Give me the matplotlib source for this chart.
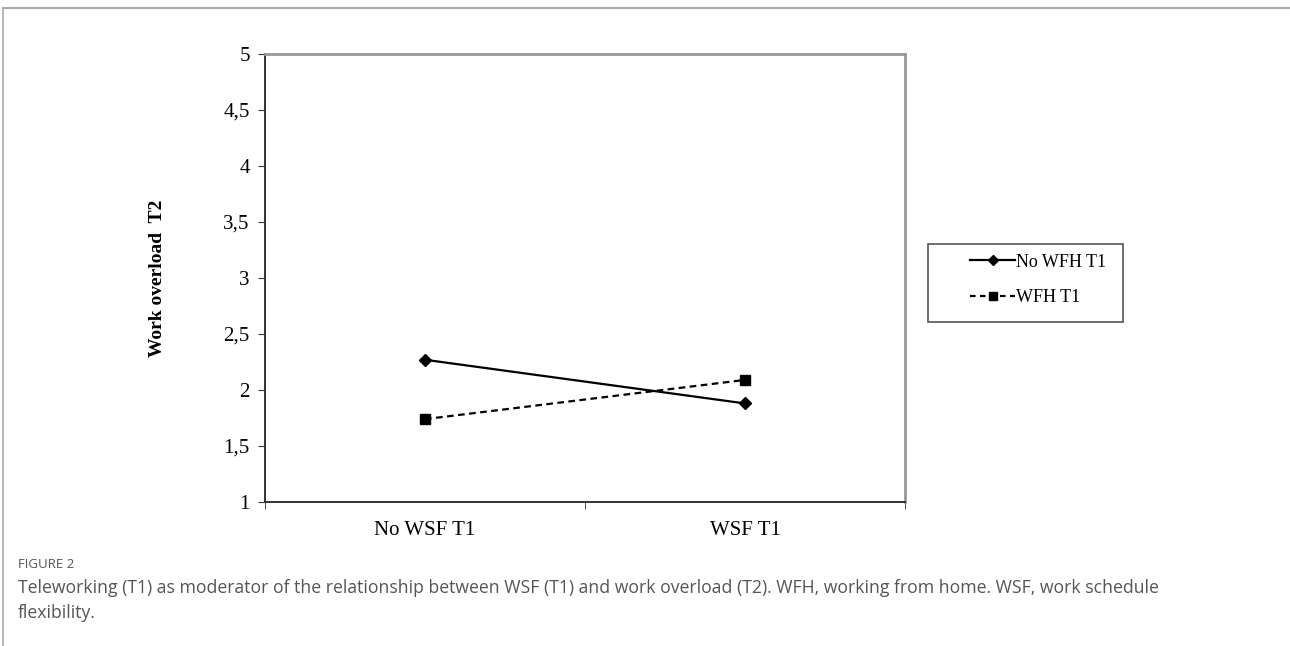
import numpy as np
import matplotlib
matplotlib.use("Agg")
import matplotlib.pyplot as plt
from matplotlib.lines import Line2D
from matplotlib.patches import Rectangle

# data
categories = ["No WSF T1", "WSF T1"]
no_wfh = [2.27, 1.88]
wfh = [1.74, 2.09]
series_names = ["No WFH T1", "WFH T1"]
yticks = [1, 1.5, 2, 2.5, 3, 3.5, 4, 4.5, 5]
ytick_labels = ["1", "1,5", "2", "2,5", "3", "3,5", "4", "4,5", "5"]

plt.rcParams["font.family"] = ["Liberation Serif", "DejaVu Serif"]

fig = plt.figure(figsize=(12.9, 6.46), dpi=100)
ax = fig.add_axes([265 / 1290, 1 - 502 / 646, 640 / 1290, 448 / 646])

x = np.arange(len(categories))
ax.plot(x, no_wfh, color="black", linewidth=1.6, marker="D", markersize=6,
        label=series_names[0])
ax.plot(x, wfh, color="black", linewidth=1.6, linestyle=(0, (3, 2)),
        marker="s", markersize=7, label=series_names[1])

ax.set_xlim(-0.5, 1.5)
ax.set_ylim(1, 5)
ax.set_yticks(yticks)
ax.set_yticklabels(ytick_labels, fontsize=15)
ax.set_xticks(x)
ax.set_xticklabels(categories, fontsize=15)
ax.tick_params(axis="x", which="major", length=0, pad=14)
ax.set_xticks([-0.5, 0.5, 1.5], minor=True)
ax.tick_params(axis="x", which="minor", length=5, direction="out", color="#333333")
ax.tick_params(axis="y", length=5, direction="out", color="#333333", pad=6)

for s in ["left", "bottom"]:
    ax.spines[s].set_color("#333333")
    ax.spines[s].set_linewidth(1.4)
for s in ["top", "right"]:
    ax.spines[s].set_color("#999999")
    ax.spines[s].set_linewidth(2)

ax.set_ylabel("Work overload  T2", fontsize=14, fontweight="bold", labelpad=41)

# legend box drawn separately, the entries sit inside it
fig.add_artist(Rectangle((928 / 1290, 1 - 322 / 646), 195 / 1290, 78 / 646,
                         transform=fig.transFigure, fill=False,
                         edgecolor="#555555", linewidth=1.2))
leg = ax.legend(loc="center left", bbox_to_anchor=(970 / 1290, 1 - 280 / 646),
                bbox_transform=fig.transFigure, fontsize=13, frameon=False,
                handlelength=2.5, handletextpad=0.05, borderpad=0,
                labelspacing=1.05, borderaxespad=0)
for h in leg.legend_handles:
    h.set_markersize(5.5)
leg.legend_handles[1].set_dashes([2.5, 2])

# outer frame lines of the page
fig.add_artist(Line2D([3 / 1290, 1], [1 - 8 / 646, 1 - 8 / 646],
                      transform=fig.transFigure, color="#aaaaaa", linewidth=1.5))
fig.add_artist(Line2D([3 / 1290, 3 / 1290], [0, 1 - 8 / 646],
                      transform=fig.transFigure, color="#aaaaaa", linewidth=1.2))

fig.text(18 / 1290, 1 - 565 / 646, "FIGURE 2", fontsize=9.5, color="#555555",
         family=["Open Sans", "DejaVu Sans"], va="center")
fig.text(18 / 1290, 1 - 588 / 646,
         "Teleworking (T1) as moderator of the relationship between WSF (T1) and work overload (T2). WFH, working from home. WSF, work schedule",
         fontsize=12.7, color="#555555", family=["Open Sans", "DejaVu Sans"], va="center")
fig.text(18 / 1290, 1 - 613 / 646, "flexibility.", fontsize=12.7, color="#555555",
         family=["Open Sans", "DejaVu Sans"], va="center")

fig.savefig("out.png", dpi=100)
